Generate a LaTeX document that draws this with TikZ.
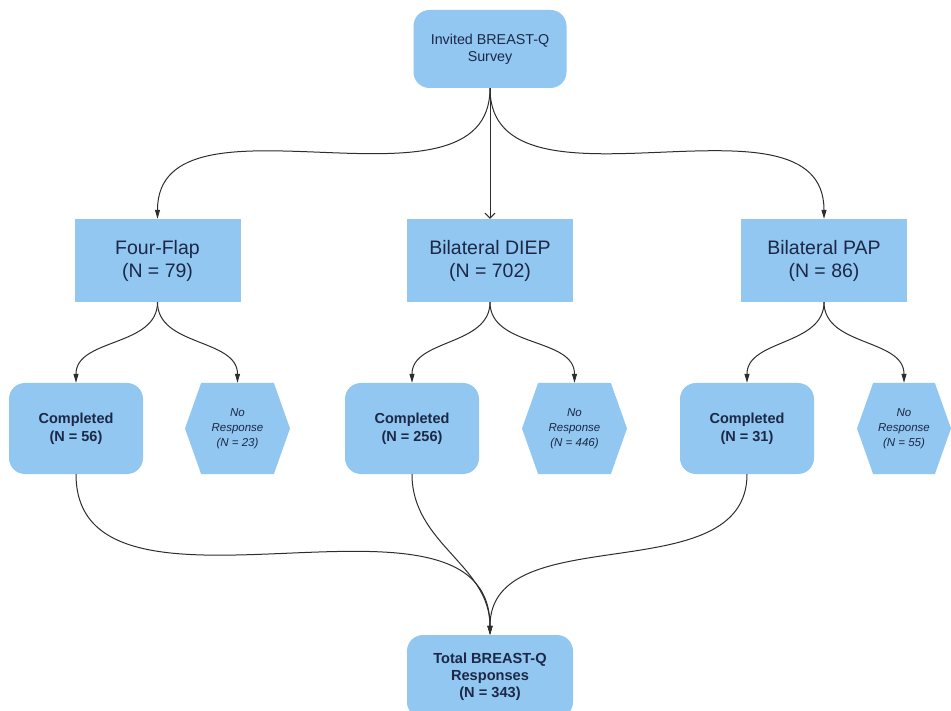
\documentclass[tikz,border=0pt]{standalone}
\usepackage{fontspec}
\setmainfont{Liberation Sans}
\usetikzlibrary{shapes.symbols,arrows.meta}
\definecolor{boxblue}{RGB}{145,199,240}
\definecolor{navy}{RGB}{28,40,70}
\definecolor{edgegray}{RGB}{45,45,45}
\begin{document}
\begin{tikzpicture}[x=1pt,y=-1pt,
  box/.style={fill=boxblue,text=navy,align=center,inner sep=0pt},
  armbox/.style={box,minimum width=166pt,minimum height=83pt,font=\fontsize{19.5}{23}\selectfont},
  donebox/.style={box,rounded corners=16pt,minimum width=134pt,minimum height=91pt,font=\bfseries\fontsize{14.5}{18}\selectfont},
  nobox/.style={box,shape=signal,signal to=east and west,signal pointer angle=141,minimum width=105pt,minimum height=91pt,font=\itshape\fontsize{11.5}{15}\selectfont},
  flow/.style={draw=edgegray,line width=1pt,-{Triangle[length=9pt,width=5pt]}}]
	\clip (0,0) rectangle (951,711);
	\node[box,rounded corners=16pt,minimum width=153pt,minimum height=78pt,font=\fontsize{14.3}{17}\selectfont] (invited) at (490,49) {Invited BREAST-Q\\Survey};
	\node[armbox,below of=invited,node distance=211.5pt] (diep) {Bilateral DIEP\\(N = 702)};
	\node[armbox,left of=diep,node distance=332.5pt] (four) {Four-Flap\\(N = 79)};
	\node[armbox,right of=diep,node distance=334pt] (pap) {Bilateral PAP\\(N = 86)};
	\node[donebox,below of=diep,node distance=168pt,xshift=-78pt] (done256) {Completed\\(N = 256)};
	\node[nobox,right of=done256,node distance=162.5pt] (none446) {No\\Response\\(N = 446)};
	\node[donebox,left of=done256,node distance=336pt] (done56) {Completed\\(N = 56)};
	\node[nobox,right of=done56,node distance=161.5pt] (none23) {No\\Response\\(N = 23)};
	\node[donebox,right of=done256,node distance=335pt] (done31) {Completed\\(N = 31)};
	\node[nobox,right of=done31,node distance=157pt,minimum width=94pt] (none55) {No\\Response\\(N = 55)};
	\node[box,rounded corners=16pt,minimum width=166pt,minimum height=83pt,font=\bfseries\fontsize{14.6}{17}\selectfont,below of=diep,node distance=416pt] (total) {Total BREAST-Q\\Responses\\(N = 343)};
	% survey to the three arms
	\draw[flow] (invited.south) to[out=-90,in=90] (four.north);
	\draw[draw=edgegray,line width=1pt,-{Straight Barb[length=5pt,width=10pt]}] (invited.south) -- (diep.north);
	\draw[flow] (invited.south) to[out=-90,in=90] (pap.north);
	% arms to responses
	\draw[flow] (four.south) to[out=-90,in=90] (done56.north);
	\draw[flow] (four.south) to[out=-90,in=90] (none23.north);
	\draw[flow] (diep.south) to[out=-90,in=90] (done256.north);
	\draw[flow] (diep.south) to[out=-90,in=90] (none446.north);
	\draw[flow] (pap.south) to[out=-90,in=90] (done31.north);
	\draw[flow] (pap.south) to[out=-90,in=90] (none55.north);
	% completed to total
	\draw[flow] (done56.south) to[out=-90,in=90] (total.north);
	\draw[flow] (done256.south) to[out=-90,in=90] (total.north);
	\draw[flow] (done31.south) to[out=-90,in=90] (total.north);
\end{tikzpicture}
\end{document}
